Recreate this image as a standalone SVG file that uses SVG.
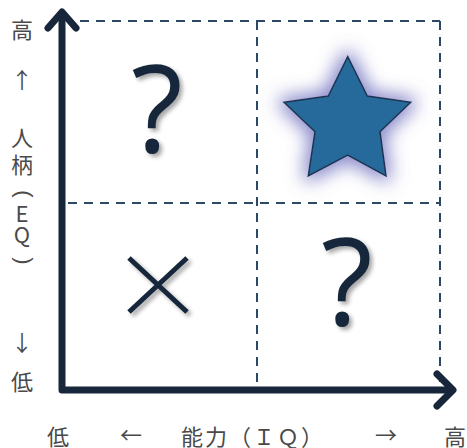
<svg xmlns="http://www.w3.org/2000/svg" width="467" height="448" viewBox="0 0 467 448">
<defs>
<style>
.lbl{font-family:"Noto Sans CJK JP","Liberation Sans",sans-serif;font-size:22px;fill:#4a4a4a;text-anchor:middle}
.par{font-family:"Liberation Sans",sans-serif;font-size:22px;fill:#4a4a4a;text-anchor:middle;dominant-baseline:central}
.dash{stroke:#2c4866;stroke-width:2;stroke-dasharray:9 7;fill:none}
.axis{stroke:#17263a;stroke-width:7;fill:none;stroke-linecap:round;stroke-linejoin:round}
.q{font-family:"Open Sans","Liberation Sans",sans-serif;font-size:120px;fill:#17263a;text-anchor:middle}
</style>
<filter id="sh" x="-30%" y="-30%" width="160%" height="160%">
<feDropShadow dx="3" dy="3" stdDeviation="2" flood-color="#000" flood-opacity="0.35"/>
</filter>
<filter id="glow" x="-50%" y="-50%" width="200%" height="200%">
<feMorphology in="SourceAlpha" operator="dilate" radius="4" result="d"/>
<feGaussianBlur in="d" stdDeviation="9" result="b"/>
<feFlood flood-color="#7474c2" flood-opacity="0.85"/>
<feComposite in2="b" operator="in" result="g"/>
<feMerge><feMergeNode in="g"/><feMergeNode in="SourceGraphic"/></feMerge>
</filter>
</defs>
<rect width="467" height="448" fill="#fff"/>
<g id="connectors">
<line class="dash" x1="80" y1="21" x2="440" y2="21"/>
<line class="dash" x1="68" y1="203" x2="440" y2="203"/>
<line class="dash" x1="440" y1="21" x2="440" y2="385"/>
<line class="dash" x1="257" y1="21" x2="257" y2="385"/>
<path class="axis" d="M62 14 V390 H452"/>
<path class="axis" d="M48 28 L62 12 L76 28"/>
<path class="axis" d="M437 374 L453 390 L437 406"/>
</g>
<g id="q1" filter="url(#sh)"><text class="q" x="157" y="152">?</text></g>
<g id="star" filter="url(#glow)"><polygon points="347.7,56.7 367.3,96 410.7,102.3 380,131.7 386,176 347.7,155 308.3,176 315,131.7 284,102.3 328.3,96" fill="#276b9b" stroke="#1b3450" stroke-width="1.5" stroke-linejoin="miter"/></g>
<g id="x" filter="url(#sh)"><path d="M129 258 L187 312 M187 258 L129 312" stroke="#17263a" stroke-width="5"/></g>
<g id="q2" filter="url(#sh)"><text class="q" x="347" y="325">?</text></g>
<g id="ylabel">
<text class="lbl" x="22" y="38">高</text>
<text class="lbl" x="22" y="88">↑</text>
<text class="lbl" x="22" y="146">人</text>
<text class="lbl" x="22" y="173">柄</text>
<text class="par" transform="translate(24,194) rotate(90)">(</text>
<text class="lbl" x="22" y="222">E</text>
<text class="lbl" x="22" y="243">Q</text>
<text class="par" transform="translate(24,261) rotate(90)">)</text>
<text class="lbl" x="22" y="351">↓</text>
<text class="lbl" x="22" y="390">低</text>
</g>
<g id="xlabel">
<text class="lbl" x="58" y="445">低</text>
<text class="lbl" x="131" y="443">←</text>
<text class="lbl" x="253" y="445" style="letter-spacing:2px">能力（ＩＱ）</text>
<text class="lbl" x="386" y="443">→</text>
<text class="lbl" x="455" y="445">高</text>
</g>
</svg>
